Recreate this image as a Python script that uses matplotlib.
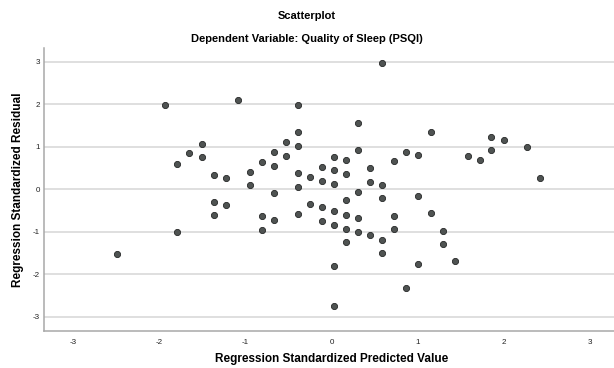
import matplotlib
matplotlib.use("Agg")
import matplotlib.pyplot as plt

# Standardized predicted values (x) and standardized residuals (y)
pred = [-1.93, -1.09, -1.51, -1.65, -1.51, -1.79, -1.37, -1.23, 0.59, -0.39,
        0.31, -0.39, -0.53, -0.39, 0.31, 0.87, 1.01, -0.67, -0.53, -0.81,
        0.03, 0.17, 0.73, -0.67, -0.11, 0.45, -0.95, -0.39, 0.03, 0.17,
        -0.25, -0.11, 0.45, -0.95, -0.39, 0.03, 0.59, -0.67, 0.31, 0.17,
        0.59, 1.01, 1.15, 1.58, 1.72, 1.85, 2.00, 1.85, 2.27, 2.42,
        -1.37, -1.23, -1.37, -1.79, -2.49, -0.25, -0.11, 0.03, 0.17, 0.31,
        0.73, -0.81, -0.67, -0.39, -0.11, 0.03, 0.17, 0.31, -0.81, 0.73,
        0.45, 0.59, 0.17, 0.59, 0.03, 1.01, 0.87, 0.03, 1.15, 1.29,
        1.29, 1.44]
resid = [1.98, 2.10, 1.08, 0.85, 0.76, 0.61, 0.35, 0.27, 2.98, 1.99,
         1.56, 1.35, 1.12, 1.02, 0.92, 0.89, 0.81, 0.88, 0.79, 0.64,
         0.77, 0.69, 0.66, 0.56, 0.53, 0.51, 0.41, 0.39, 0.45, 0.36,
         0.30, 0.21, 0.18, 0.10, 0.07, 0.13, 0.10, -0.08, -0.05, -0.25,
         -0.21, -0.15, 1.36, 0.79, 0.70, 1.24, 1.16, 0.93, 0.99, 0.27,
         -0.29, -0.37, -0.60, -0.99, -1.52, -0.34, -0.42, -0.51, -0.60, -0.68,
         -0.62, -0.63, -0.72, -0.57, -0.75, -0.83, -0.92, -1.00, -0.95, -0.94,
         -1.08, -1.18, -1.24, -1.49, -1.79, -1.76, -2.31, -2.74, -0.56, -0.97,
         -1.29, -1.69]

ticks = [-3, -2, -1, 0, 1, 2, 3]
tick_labels = ["-3", "-2", "-1", "0", "1", "2", "3"]

plt.rcParams["font.family"] = ["Liberation Sans", "DejaVu Sans"]

fig = plt.figure(figsize=(6.14, 3.68), dpi=100)
ax = fig.add_axes([0.0717, 0.1005, 0.9365, 0.768])

ax.set_xlim(-3.34, 3.34)
ax.set_ylim(-3.33, 3.32)

ax.set_axisbelow(True)
ax.grid(axis="y", color="#d6d6d6", linewidth=1.1)
ax.grid(axis="x", visible=False)

ax.scatter(pred, resid, s=20, facecolor="#4f5352", edgecolor="#262828",
           linewidth=0.6, zorder=3)

ax.set_xticks(ticks)
ax.set_xticklabels(tick_labels)
ax.set_yticks(ticks)
ax.set_yticklabels(tick_labels)
ax.tick_params(axis="both", length=0, labelsize=5.8, colors="#222222")
ax.tick_params(axis="x", pad=6)
ax.tick_params(axis="y", pad=3)

for side in ("top", "right"):
    ax.spines[side].set_visible(False)
for side in ("left", "bottom"):
    ax.spines[side].set_color("#a8a8a8")
    ax.spines[side].set_linewidth(1.1)

ax.set_xlabel("Regression Standardized Predicted Value", fontsize=8.5,
              fontweight="bold", labelpad=5)
ax.set_ylabel("Regression Standardized Residual", fontsize=8.5,
              fontweight="bold", labelpad=6)

fig.text(0.5, 1 - 16 / 368, "Scatterplot", ha="center", va="center",
         fontsize=8, fontweight="bold")
fig.text(0.5, 1 - 39 / 368, "Dependent Variable: Quality of Sleep (PSQI)",
         ha="center", va="center", fontsize=8, fontweight="bold")

fig.savefig("out.png", dpi=100)
